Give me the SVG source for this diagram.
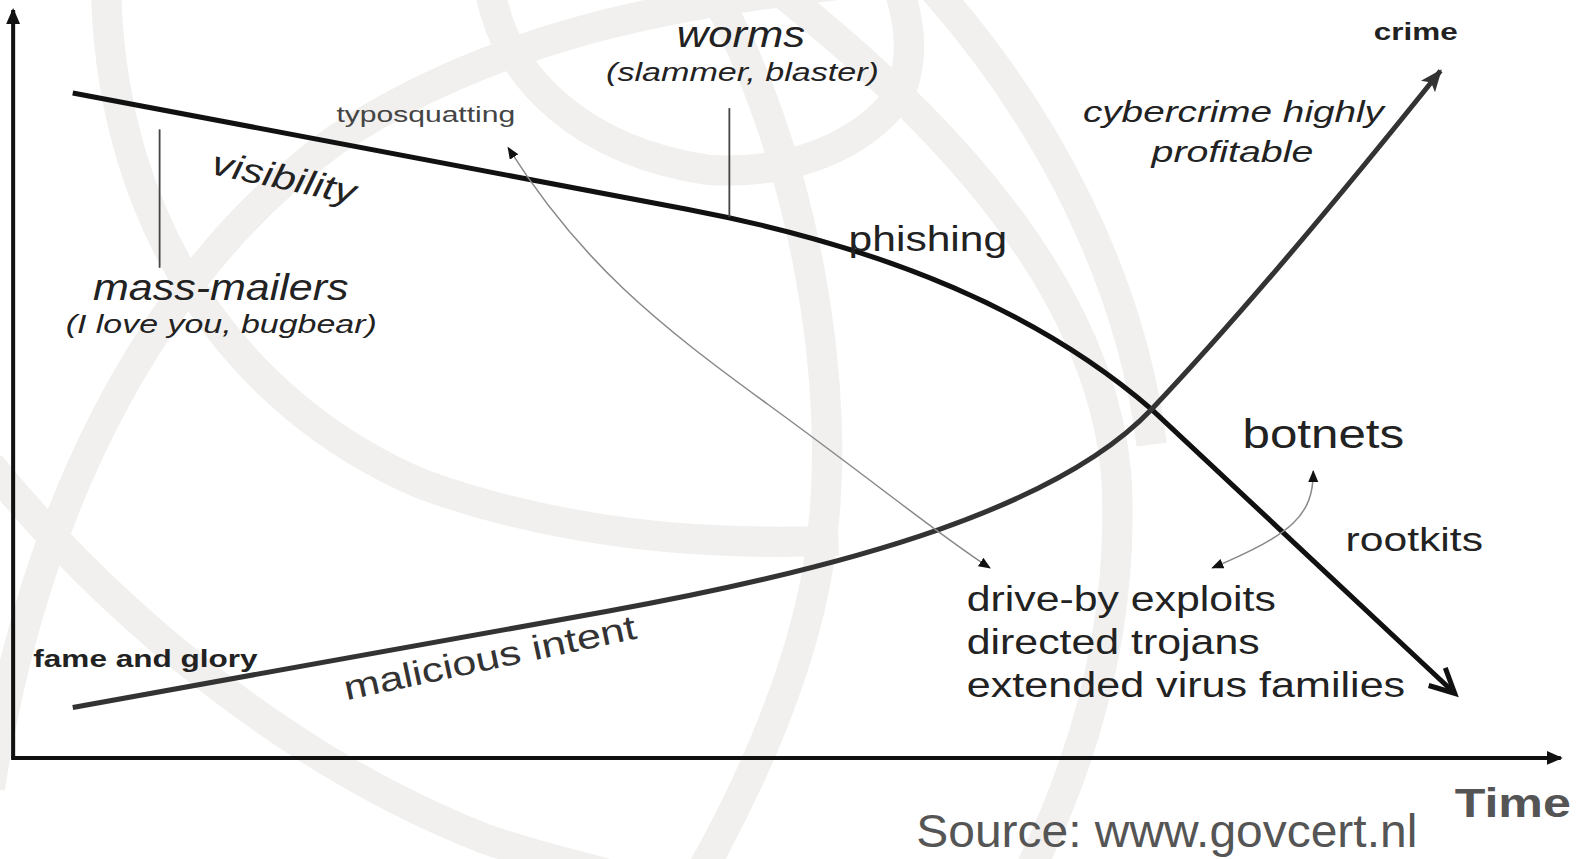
<svg xmlns="http://www.w3.org/2000/svg" width="1584" height="859" viewBox="0 0 1584 859">
<defs>
<style>
.wm{fill:none;stroke:#f1f0ee;stroke-width:30;stroke-linecap:butt}
.t{font-family:"Liberation Sans",Arial,sans-serif;fill:#222}
.i{font-style:italic}
.axis{fill:none;stroke:#111;stroke-width:4}
.vis{fill:none;stroke:#111;stroke-width:5}
.mal{fill:none;stroke:#333;stroke-width:5}
.thin{fill:none;stroke:#888;stroke-width:1.5}
.tick{fill:none;stroke:#444;stroke-width:1.8}
</style>
<marker id="axArrow" markerUnits="userSpaceOnUse" markerWidth="20" markerHeight="16" refX="14" refY="7" orient="auto">
<path d="M0,0 L16,7 L0,14 Z" fill="#111"/>
</marker>
<marker id="smallArrow" markerUnits="userSpaceOnUse" markerWidth="14" markerHeight="12" refX="11" refY="5" orient="auto-start-reverse">
<path d="M0,0 L12,5 L0,10 Z" fill="#111"/>
</marker>
<marker id="crimeArrow" markerUnits="userSpaceOnUse" markerWidth="26" markerHeight="22" refX="20" refY="9" orient="auto">
<path d="M0,0 L22,9 L0,18 L5,9 Z" fill="#333"/>
</marker>
<marker id="visArrow" markerUnits="userSpaceOnUse" markerWidth="34" markerHeight="34" refX="28" refY="14" orient="auto">
<path d="M4,2 L28,14 L4,26" fill="none" stroke="#111" stroke-width="5" stroke-linejoin="miter"/>
</marker>
</defs>
<rect width="1584" height="859" fill="#fff"/>
<g transform="scale(1.0102 1.0106)">
<g id="watermark">
<path class="wm" d="M105,-10 C110,220 230,400 420,480 C560,530 700,540 830,535"/>
<path class="wm" d="M-10,780 C30,520 140,280 330,140 C480,40 650,5 830,-15"/>
<path class="wm" d="M-10,460 C120,620 300,760 480,830 C530,848 580,858 620,870"/>
<path class="wm" d="M485,-10 C500,80 580,150 700,168 C800,175 870,130 892,90 C905,55 900,20 890,-10"/>
<path class="wm" d="M705,-10 C790,140 840,380 810,560 C790,680 730,800 690,870"/>
<path class="wm" d="M770,-10 C960,140 1090,300 1105,470 C1115,640 1060,780 1015,870"/>
<path class="wm" d="M925,-10 C1040,120 1120,280 1140,440"/>
</g>
<g id="connectors">
<path id="y-axis" class="axis" d="M13,750 L13,10" marker-end="url(#axArrow)"/>
<path id="x-axis" class="axis" d="M11,750 L1545,750" marker-end="url(#axArrow)"/>
<path id="visibility-curve" class="vis" d="M72,92 L680,207 C880,245 1030,310 1140,405 L1440,686" marker-end="url(#visArrow)"/>
<path id="malicious-curve" class="mal" d="M72,700 L600,605 C850,560 1050,500 1140,405 C1230,310 1330,190 1426,70" marker-end="url(#crimeArrow)"/>
<path id="typo-arrow" class="thin" d="M503,146 C575,260 650,320 760,400 S930,530 980,562" marker-start="url(#smallArrow)" marker-end="url(#smallArrow)"/>
<path id="botnet-arrow" class="thin" d="M1300,466 C1300,510 1280,528 1200,562" marker-start="url(#smallArrow)" marker-end="url(#smallArrow)"/>
<path id="mass-tick" class="tick" d="M158,128 L158,265"/>
<path id="worms-tick" class="tick" d="M722,107 L722,215"/>
</g>
<g id="worms"><text class="t i" x="670" y="47" font-size="36" textLength="127" lengthAdjust="spacingAndGlyphs">worms</text>
<text class="t i" x="600" y="80" font-size="25" textLength="270" lengthAdjust="spacingAndGlyphs">(slammer, blaster)</text></g>
<g id="typosquatting"><text class="t" x="333" y="121" font-size="21" fill="#444" style="fill:#444" textLength="177" lengthAdjust="spacingAndGlyphs">typosquatting</text></g>
<g id="visibility"><text class="t i" x="208" y="172" font-size="34" transform="rotate(12 208 172)" textLength="145" lengthAdjust="spacingAndGlyphs">visibility</text></g>
<g id="mass-mailers"><text class="t i" x="92" y="297" font-size="36" textLength="253" lengthAdjust="spacingAndGlyphs">mass-mailers</text>
<text class="t i" x="65" y="330" font-size="26" textLength="308" lengthAdjust="spacingAndGlyphs">(I love you, bugbear)</text></g>
<g id="phishing"><text class="t" x="840" y="248" font-size="34" textLength="157" lengthAdjust="spacingAndGlyphs">phishing</text></g>
<g id="crime"><text class="t" x="1360" y="40" font-size="24" font-weight="bold" textLength="83" lengthAdjust="spacingAndGlyphs">crime</text></g>
<g id="cybercrime"><text class="t i" x="1072" y="121" font-size="30" textLength="298" lengthAdjust="spacingAndGlyphs">cybercrime highly</text>
<text class="t i" x="1140" y="160" font-size="30" textLength="160" lengthAdjust="spacingAndGlyphs">profitable</text></g>
<g id="botnets"><text class="t" x="1230" y="443" font-size="40" textLength="160" lengthAdjust="spacingAndGlyphs">botnets</text></g>
<g id="rootkits"><text class="t" x="1332" y="545" font-size="33" textLength="136" lengthAdjust="spacingAndGlyphs">rootkits</text></g>
<g id="exploits"><text class="t" x="957" y="605" font-size="34" textLength="306" lengthAdjust="spacingAndGlyphs">drive-by exploits</text>
<text class="t" x="957" y="647" font-size="34" textLength="290" lengthAdjust="spacingAndGlyphs">directed trojans</text>
<text class="t" x="957" y="690" font-size="34" textLength="434" lengthAdjust="spacingAndGlyphs">extended virus families</text></g>
<g id="fame"><text class="t" x="33" y="660" font-size="24" font-weight="bold" textLength="222" lengthAdjust="spacingAndGlyphs">fame and glory</text></g>
<g id="malicious"><text class="t" x="343" y="693" font-size="34" style="fill:#333" transform="rotate(-12 343 693)" textLength="295" lengthAdjust="spacingAndGlyphs">malicious intent</text></g>
<g id="time"><text class="t" x="1440" y="808" font-size="40" font-weight="bold" style="fill:#555" textLength="115" lengthAdjust="spacingAndGlyphs">Time</text></g>
<g id="source"><text class="t" x="907" y="838" font-size="46" style="fill:#555" textLength="496" lengthAdjust="spacingAndGlyphs">Source: www.govcert.nl</text></g>
</g>
</svg>
